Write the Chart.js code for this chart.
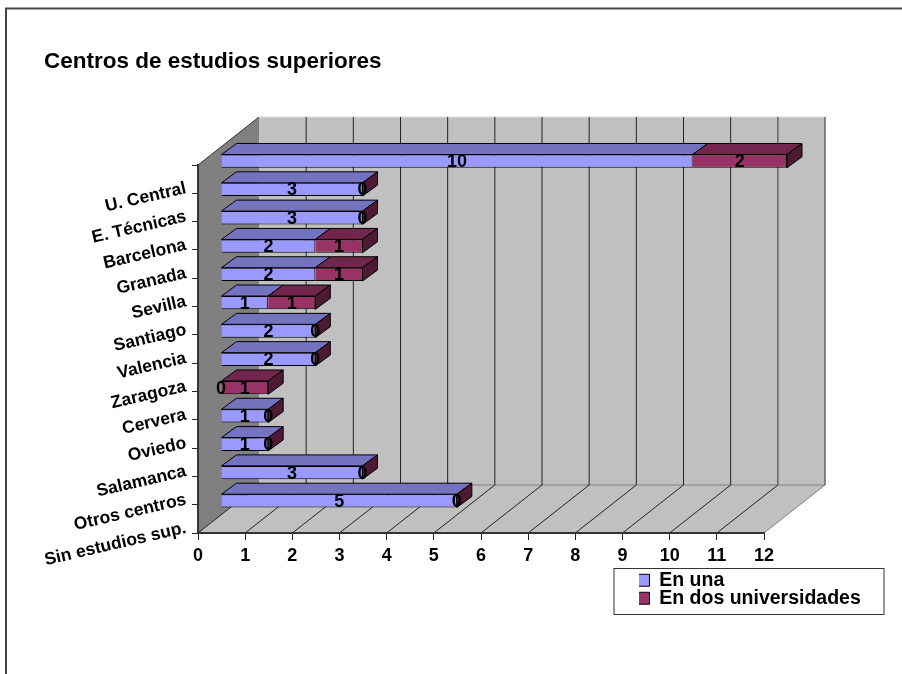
<!DOCTYPE html>
<html>
<head>
<meta charset="utf-8">
<script src="https://cdn.jsdelivr.net/npm/chart.js@4"></script>
<style>
  html, body { margin: 0; padding: 0; background: #fff; }
  #wrap { width: 902px; height: 674px; }
</style>
</head>
<body>
<div id="wrap"><canvas id="myChart" width="902" height="674"></canvas></div>
<script>
const categories = ['U. Central', 'E. Técnicas', 'Barcelona', 'Granada', 'Sevilla', 'Santiago', 'Valencia', 'Zaragoza', 'Cervera', 'Oviedo', 'Salamanca', 'Otros centros', 'Sin estudios sup.'];
const enUna = [10, 3, 3, 2, 2, 1, 2, 2, 0, 1, 1, 3, 5];
const enDos = [2, 0, 0, 1, 1, 1, 0, 0, 1, 0, 0, 0, 0];

const family = '"Liberation Sans", Arial, sans-serif';
const font = { family, size: 18, weight: 'bold' };

// how far the walls go back, and how far in the bars sit
const wall = { x: 61, y: -48 };
const barShift = { x: 23, y: -18 };
const barDepth = { x: 15, y: -11 };

const poly = (ctx, pts, fill, stroke) => {
  ctx.beginPath();
  pts.forEach((p, i) => i ? ctx.lineTo(p[0], p[1]) : ctx.moveTo(p[0], p[1]));
  ctx.closePath();
  ctx.fillStyle = fill;
  ctx.fill();
  if (stroke) {
    ctx.strokeStyle = stroke;
    ctx.lineWidth = 1;
    ctx.stroke();
  }
};

const line = (ctx, x1, y1, x2, y2, color, width) => {
  ctx.beginPath();
  ctx.moveTo(x1, y1);
  ctx.lineTo(x2, y2);
  ctx.strokeStyle = color;
  ctx.lineWidth = width;
  ctx.stroke();
};

const walls3d = {
  id: 'walls3d',
  afterLayout(chart) {
    // legend takes no room in the layout, it sits under the axis
    const legend = chart.legend;
    legend.left = 639;
    legend.right = 884;
    legend.top = 572;
    legend.bottom = 640;
  },
  beforeDraw(chart) {
    const { ctx, chartArea: a, scales: { x } } = chart;
    ctx.save();
    // frame round the chart
    line(ctx, 6, 8.5, 6, 674, '#444', 2);
    line(ctx, 5, 8.5, 902, 8.5, '#444', 2);
    poly(ctx, [[a.left + wall.x, a.top + wall.y], [a.right + wall.x, a.top + wall.y], [a.right + wall.x, a.bottom + wall.y], [a.left + wall.x, a.bottom + wall.y]], '#c0c0c0');
    poly(ctx, [[a.left, a.bottom], [a.left + wall.x, a.bottom + wall.y], [a.right + wall.x, a.bottom + wall.y], [a.right, a.bottom]], '#c0c0c0');
    poly(ctx, [[a.left, a.top], [a.left + wall.x, a.top + wall.y], [a.left + wall.x, a.bottom + wall.y], [a.left, a.bottom]], '#808080');
    line(ctx, a.left + wall.x, a.bottom + wall.y, a.right + wall.x, a.bottom + wall.y, '#808080', 1);
    line(ctx, a.left + wall.x, a.top + wall.y, a.right + wall.x, a.top + wall.y, '#ddd', 1);
    x.ticks.forEach(t => {
      const px = x.getPixelForValue(t.value);
      const isEdge = t.value === x.max;
      if (t.value > 0) {
        line(ctx, px + wall.x, a.top + wall.y, px + wall.x, a.bottom + wall.y, t.value >= 11 ? '#666' : '#222', t.value >= 11 ? 1.5 : 1);
      }
      line(ctx, px, a.bottom, px + wall.x, a.bottom + wall.y, isEdge ? '#808080' : '#222', 1);
    });
    line(ctx, a.left, a.top, a.left + wall.x, a.top + wall.y, '#333', 1);
    ctx.restore();
  },
  beforeDatasetsDraw(chart) {
    const { ctx } = chart;
    ctx.save();
    // top and side faces first, the library then draws the front faces over them
    ctx.translate(barShift.x, barShift.y);
    const last = chart.data.datasets.length - 1;
    chart.data.datasets.forEach((ds, d) => {
      chart.getDatasetMeta(d).data.forEach(bar => {
        const l = Math.min(bar.base, bar.x);
        const r = Math.max(bar.base, bar.x);
        const t = bar.y - bar.height / 2;
        const b = bar.y + bar.height / 2;
        if (r > l) {
          poly(ctx, [[l, t], [l + barDepth.x, t + barDepth.y], [r + barDepth.x, t + barDepth.y], [r, t]], ds.topColor, '#000');
        }
        if (d === last) {
          poly(ctx, [[r, t], [r + barDepth.x, t + barDepth.y], [r + barDepth.x, b + barDepth.y], [r, b]], ds.sideColor, '#000');
        }
      });
    });
  },
  afterDatasetsDraw(chart) {
    const { ctx } = chart;
    // values on the bars, still inside the shift from beforeDatasetsDraw
    ctx.font = `${font.weight} ${font.size}px ${font.family}`;
    ctx.fillStyle = '#000';
    ctx.textAlign = 'center';
    ctx.textBaseline = 'middle';
    chart.data.datasets.forEach((ds, d) => {
      chart.getDatasetMeta(d).data.forEach((bar, i) => {
        ctx.fillText(ds.data[i], (bar.base + bar.x) / 2, bar.y + 1);
      });
    });
    ctx.restore();
  },
  afterDraw(chart) {
    const { ctx } = chart;
    ctx.save();
    ctx.strokeStyle = '#333';
    ctx.lineWidth = 1;
    ctx.strokeRect(614, 568.5, 270, 46);
    ctx.restore();
  }
};

const ctx = document.getElementById('myChart').getContext('2d');
const myChart = new Chart(ctx, {
  type: 'bar',
  data: {
    labels: categories,
    datasets: [
      { label: 'En una', data: enUna, backgroundColor: '#9999ff', topColor: '#7373bf', sideColor: '#4d4d80', borderColor: '#000', borderWidth: 1, barPercentage: 0.47, categoryPercentage: 1 },
      { label: 'En dos universidades', data: enDos, backgroundColor: '#993366', topColor: '#73264d', sideColor: '#4d1933', borderColor: '#000', borderWidth: 1, barPercentage: 0.47, categoryPercentage: 1 }
    ]
  },
  options: {
    indexAxis: 'y',
    responsive: false,
    animation: false,
    layout: { padding: { left: 44, right: 137 } },
    scales: {
      x: {
        stacked: true,
        min: 0,
        max: 12,
        ticks: { stepSize: 1, color: '#000', font, padding: 5, maxRotation: 0 },
        grid: { drawOnChartArea: false, color: '#222', tickLength: 7 },
        border: { color: '#333', width: 2 },
        afterFit(scale) { scale.height = 141; }
      },
      y: {
        stacked: true,
        ticks: { color: '#000', font: { family, size: 17.5, weight: 'bold' }, padding: 6, minRotation: 13, maxRotation: 13, labelOffset: 9, autoSkip: false },
        grid: { drawOnChartArea: false, color: '#222', tickLength: 6 },
        border: { color: '#333', width: 2 },
        afterFit(scale) { scale.width = 154; }
      }
    },
    plugins: {
      tooltip: { enabled: false },
      title: {
        display: true,
        text: 'Centros de estudios superiores',
        align: 'start',
        color: '#000',
        font: { family, size: 22.5, weight: 'bold' },
        padding: { top: 48, bottom: 90 }
      },
      legend: {
        position: 'right',
        align: 'start',
        maxWidth: 1,
        labels: { color: '#000', font: { family, size: 19.5, weight: 'bold' }, boxWidth: 12, boxHeight: 12, padding: -1.5 }
      }
    }
  },
  plugins: [walls3d]
});
</script>
</body>
</html>
